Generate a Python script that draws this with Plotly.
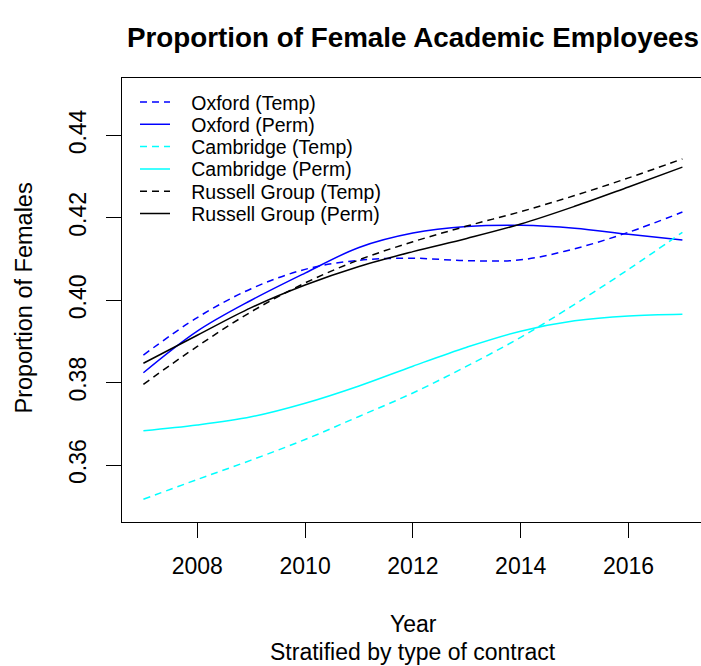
import plotly.graph_objects as go

# ---- data ----
years = [2007, 2008, 2009, 2010, 2011, 2012, 2013, 2014, 2015, 2016, 2017]
oxford_temp = [0.3867, 0.3958, 0.4028, 0.4075, 0.4097, 0.4102, 0.4096, 0.4098, 0.4125, 0.4165, 0.4214]
oxford_perm = [0.3824, 0.3925, 0.4000, 0.4066, 0.4128, 0.4163, 0.4179, 0.4182, 0.4175, 0.4160, 0.4146]
cambridge_temp = [0.3517, 0.3565, 0.3612, 0.3662, 0.3718, 0.3775, 0.3840, 0.3910, 0.3990, 0.4075, 0.4165]
cambridge_perm = [0.3683, 0.3697, 0.3717, 0.3750, 0.3792, 0.3840, 0.3886, 0.3925, 0.3950, 0.3962, 0.3966]
russell_temp = [0.3796, 0.3888, 0.3972, 0.4042, 0.4098, 0.4142, 0.4180, 0.4215, 0.4254, 0.4297, 0.4343]
russell_perm = [0.3847, 0.3915, 0.3982, 0.4037, 0.4082, 0.4118, 0.4150, 0.4185, 0.4228, 0.4275, 0.4323]

series_names = ["Oxford (Temp)", "Oxford (Perm)", "Cambridge (Temp)",
                "Cambridge (Perm)", "Russell Group (Temp)", "Russell Group (Perm)"]
series_values = [oxford_temp, oxford_perm, cambridge_temp, cambridge_perm, russell_temp, russell_perm]
series_colors = ["#0000FF", "#0000FF", "#00FFFF", "#00FFFF", "#000000", "#000000"]
series_dashes = ["7px,5px", "solid", "7px,5px", "solid", "7px,5px", "solid"]

y_ticks = [0.36, 0.38, 0.40, 0.42, 0.44]
y_tick_labels = ["0.36", "0.38", "0.40", "0.42", "0.44"]
x_ticks = [2008, 2010, 2012, 2014, 2016]

FONT = "Liberation Sans, Arial, Helvetica, sans-serif"
W, H = 701, 666
ML, MR, MT, MB = 122, 0, 78, 144
plot_w = W - ML - MR
plot_h = H - MT - MB

fig = go.Figure()
legend_ids = ["legend", "legend2", "legend3", "legend4", "legend5", "legend6"]
NB = "\u00a0\u00a0\u00a0"
for i, (name, vals, col, dash) in enumerate(zip(series_names, series_values, series_colors, series_dashes)):
    fig.add_trace(go.Scatter(
        x=years, y=vals, mode="lines", name=NB + name,
        line=dict(color=col, width=1.5, dash=dash, shape="spline", smoothing=1.0),
        legend=legend_ids[i], hoverinfo="skip"))

layout_legends = {}
row0, row_gap = 102.3, 22.3
for i, lid in enumerate(legend_ids):
    ypx = row0 + row_gap * i
    layout_legends[lid] = dict(
        x=(135 - ML) / plot_w, xanchor="left",
        y=(MT + plot_h - ypx) / plot_h, yanchor="middle",
        font=dict(family=FONT, size=19.5, color="black"),
        bgcolor="rgba(0,0,0,0)", borderwidth=0, itemwidth=30)

fig.update_layout(
    width=W, height=H,
    margin=dict(l=ML, r=MR, t=MT, b=MB, pad=0),
    paper_bgcolor="white", plot_bgcolor="white",
    showlegend=True,
    font=dict(family=FONT, color="black"),
    title=dict(text="<b>Proportion of Female Academic Employees</b>",
               x=413 / W, xref="container", xanchor="center",
               y=1 - 37 / H, yref="container", yanchor="middle",
               font=dict(family=FONT, size=27.8, color="black")),
    **layout_legends,
)

fig.update_xaxes(
    range=[2006.603, 2017.345], tickvals=x_ticks,
    ticks="outside", ticklen=15, tickwidth=1.3, tickcolor="black",
    showline=True, linecolor="black", linewidth=1.3, mirror=True,
    showgrid=False, zeroline=False,
    tickfont=dict(family=FONT, size=23, color="black"),
    ticklabelstandoff=8)
fig.update_yaxes(
    range=[0.34618, 0.45394], tickvals=y_ticks, ticktext=y_tick_labels,
    ticks="outside", ticklen=15, tickwidth=1.3, tickcolor="black",
    showline=True, linecolor="black", linewidth=1.3, mirror=False,
    showgrid=False, zeroline=False, tickangle=-90,
    tickfont=dict(family=FONT, size=23, color="black"),
    ticklabelstandoff=11)

fig.add_annotation(text="Proportion of Females", textangle=-90,
                   x=(23 - ML) / plot_w, xref="paper", y=(MT + plot_h - 298.5) / plot_h, yref="paper",
                   showarrow=False, font=dict(family=FONT, size=23.5, color="black"),
                   xanchor="center", yanchor="middle")
fig.add_annotation(text="Year", x=(413 - ML) / plot_w, xref="paper",
                   y=(MT + plot_h - 624) / plot_h, yref="paper",
                   showarrow=False, font=dict(family=FONT, size=23, color="black"),
                   xanchor="center", yanchor="middle")
fig.add_annotation(text="Stratified by type of contract", x=(413 - ML) / plot_w, xref="paper",
                   y=(MT + plot_h - 652) / plot_h, yref="paper",
                   showarrow=False, font=dict(family=FONT, size=23, color="black"),
                   xanchor="center", yanchor="middle")

fig.write_html("out.html",
               config={"displayModeBar": False, "staticPlot": False},
               post_script="document.body.style.margin='0';document.body.style.padding='0';"
                           "document.body.style.overflow='hidden';"
                           "document.documentElement.style.overflow='hidden';")
